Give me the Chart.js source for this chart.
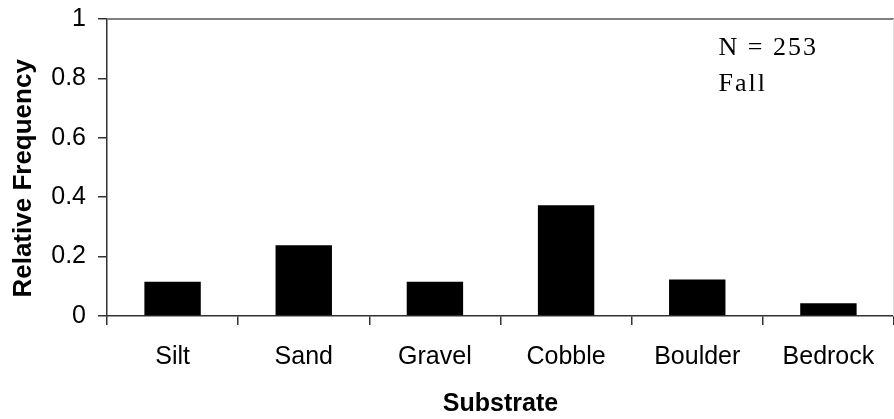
<!DOCTYPE html>
<html>
<head>
<meta charset="utf-8">
<script src="https://cdn.jsdelivr.net/npm/chart.js@4.4.0/dist/chart.umd.min.js"></script>
<style>
  html, body { margin: 0; padding: 0; background: #fff; }
  #wrap { width: 894px; height: 419px; position: relative; }
</style>
</head>
<body>
<div id="wrap"><canvas id="c" width="894" height="419"></canvas></div>
<script>
const categories = ['Silt', 'Sand', 'Gravel', 'Cobble', 'Boulder', 'Bedrock'];
const relativeFrequency = [0.115, 0.238, 0.115, 0.373, 0.123, 0.043];
const yTickValues = [0, 0.2, 0.4, 0.6, 0.8, 1];
const annotationLines = ['N = 253', 'Fall'];
const xTitle = 'Substrate';
const yTitle = 'Relative Frequency';

const frameAndNote = {
  id: 'frameAndNote',
  afterDatasetsDraw(chart) {
    const { ctx, chartArea: a } = chart;
    ctx.save();
    ctx.strokeStyle = '#808080';
    ctx.lineWidth = 2;
    ctx.beginPath();
    ctx.moveTo(a.left, a.top);
    ctx.lineTo(a.right, a.top);
    ctx.stroke();
    ctx.strokeStyle = '#e0e0e0';
    ctx.lineWidth = 1;
    ctx.beginPath();
    ctx.moveTo(a.right - 0.5, a.top);
    ctx.lineTo(a.right - 0.5, a.bottom);
    ctx.stroke();
    ctx.fillStyle = '#000';
    ctx.font = '26px "Liberation Serif", "Times New Roman", serif';
    ctx.textBaseline = 'alphabetic';
    ctx.textAlign = 'left';
    if ('letterSpacing' in ctx) ctx.letterSpacing = '2px';
    const x0 = a.left + (a.right - a.left) * 0.777;
    annotationLines.forEach((t, i) => {
      ctx.fillText(t, x0, a.top + 36 + i * 36);
    });
    ctx.restore();
  }
};

new Chart(document.getElementById('c'), {
  type: 'bar',
  data: {
    labels: categories,
    datasets: [{
      data: relativeFrequency,
      backgroundColor: '#000000',
      borderColor: '#000000',
      borderWidth: 0,
      barPercentage: 0.43,
      categoryPercentage: 1.0
    }]
  },
  options: {
    responsive: false,
    animation: false,
    devicePixelRatio: 1,
    layout: { padding: { top: 19, right: 0, bottom: 0, left: 0 } },
    plugins: { legend: { display: false }, tooltip: { enabled: false } },
    scales: {
      x: {
        type: 'category',
        offset: true,
        grid: {
          display: true, drawOnChartArea: false, drawTicks: true,
          tickLength: 9, offset: true, color: '#333333', lineWidth: 1.5
        },
        border: { display: true, color: '#333333', width: 1.5 },
        ticks: {
          color: '#000', padding: 17,
          font: { family: '"Liberation Sans", Arial, sans-serif', size: 25 }
        },
        title: {
          display: true, text: xTitle, color: '#000',
          padding: { top: 0, bottom: 0 },
          font: { family: '"Liberation Sans", Arial, sans-serif', size: 25, weight: 'bold' }
        },
        afterFit(scale) { scale.height = 103; scale.paddingLeft = 0; scale.paddingRight = 0; }
      },
      y: {
        min: 0, max: 1,
        afterBuildTicks(scale) { scale.ticks = yTickValues.map(v => ({ value: v })); },
        grid: {
          display: true, drawOnChartArea: false, drawTicks: true,
          tickLength: 9, color: '#333333', lineWidth: 1.5
        },
        border: { display: true, color: '#333333', width: 1.5 },
        ticks: {
          color: '#000', padding: 12,
          callback: (v) => String(v),
          font: { family: '"Liberation Sans", Arial, sans-serif', size: 25 }
        },
        title: {
          display: true, text: yTitle + '   ', color: '#000',
          padding: { top: 8, bottom: 0 },
          font: { family: '"Liberation Sans", Arial, sans-serif', size: 26, weight: 'bold' }
        },
        afterFit(scale) { scale.width = 107; scale.paddingTop = 0; scale.paddingBottom = 0; }
      }
    }
  },
  plugins: [frameAndNote]
});
</script>
</body>
</html>
